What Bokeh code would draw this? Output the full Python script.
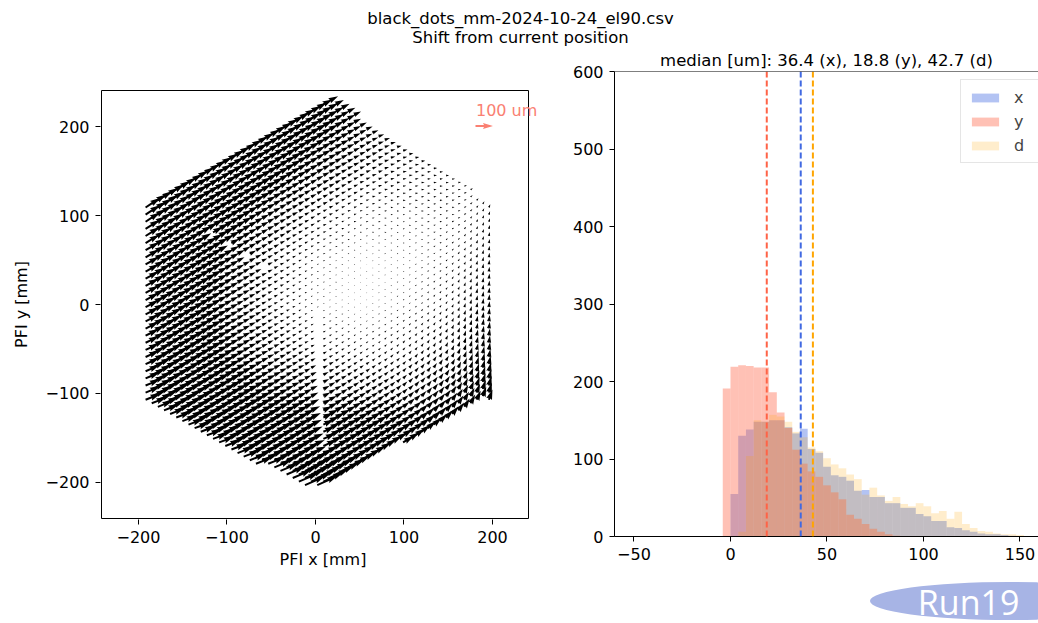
import numpy as np
from bokeh.plotting import figure
from bokeh.models import Range1d, FixedTicker, Span, Label, Legend, LegendItem
from bokeh.layouts import row, column
from bokeh.embed import file_html
from bokeh.resources import INLINE
from bokeh.core.properties import value

FONT = "DejaVu Sans"
FS = "16px"

# ---------------- text ----------------
suptitle_lines = ["black_dots_mm-2024-10-24_el90.csv", "Shift from current position"]
hist_title = "median [um]: 36.4 (x), 18.8 (y), 42.7 (d)"
x_label = "PFI x [mm]"
y_label = "PFI y [mm]"
key_text = "100 um"
key_length_um = 100
watermark = "Run19"

# ---------------- histogram data (bins of 4 um starting at -4) ----------------
bin_start = -4
bin_width = 4
counts_x = [0, 55, 130, 138, 148, 148, 150, 150, 141, 133, 139, 113, 108, 90, 79, 77, 72, 59, 60,
            51, 51, 43, 43, 37, 37, 29, 26, 20, 20, 12, 11, 8, 6, 4, 3, 3, 2, 1]
counts_y = [191, 219, 221, 220, 218, 218, 186, 160, 140, 112, 94, 84, 77, 66, 57, 48, 28, 23, 16,
            10, 6, 3, 1]
counts_d = [0, 0, 6, 104, 150, 148, 157, 155, 148, 135, 128, 115, 110, 101, 93, 88, 80, 74, 54,
            63, 53, 46, 51, 42, 39, 43, 39, 30, 33, 23, 32, 16, 11, 7, 6, 4, 3, 3, 2]
median_x = 36.4
median_y = 18.8
median_d = 42.7

# ---------------- quiver data ----------------
hex_vertex_x = [14, 196, 199, -12, -194, -194]
hex_vertex_y = [232, 116, -106, -210, -108, 108]
lattice_pitch = 8.0
lattice_center = (2.0, 5.0)
# sector gaps: direction (deg), start and end distance (mm), every n-th point missing
gap_angles = [270, 150]
gap_start = [8, 60]
gap_end = [172, 160]
gap_every = [1, 3]

grid_x = [-200, -150, -100, -50, 0, 50, 100, 150, 200]
grid_y = [200, 150, 100, 50, 0, -50, -100, -150, -200]
shift_um = [
    [110, 105, 95, 80, 62, 42, 30, 25, 25],
    [105, 95, 80, 62, 45, 30, 22, 18, 18],
    [100, 85, 62, 42, 25, 14, 12, 14, 22],
    [90, 75, 50, 28, 12, 6, 8, 14, 28],
    [85, 70, 46, 24, 9, 5, 10, 18, 35],
    [85, 72, 52, 34, 22, 16, 20, 28, 45],
    [90, 80, 66, 52, 44, 38, 36, 45, 60],
    [100, 92, 86, 80, 76, 72, 66, 70, 80],
    [120, 112, 110, 115, 125, 120, 110, 100, 100],
]
shift_deg = [
    [32, 32, 31, 30, 29, 25, 15, 5, 20],
    [33, 32, 31, 30, 28, 22, 10, 0, 40],
    [34, 32, 30, 28, 25, 15, 0, 10, 75],
    [30, 30, 28, 25, 20, 0, 10, 45, 85],
    [28, 28, 26, 24, 20, 10, 30, 60, 85],
    [25, 25, 24, 24, 26, 35, 50, 65, 82],
    [22, 22, 23, 24, 27, 33, 42, 55, 75],
    [20, 20, 21, 22, 24, 27, 32, 42, 58],
    [20, 20, 21, 22, 24, 26, 30, 36, 48],
]

# ---------------- lattice ----------------
def inside(px, py, vx, vy):
    res = np.zeros(len(px), bool)
    n = len(vx)
    j = n - 1
    for i in range(n):
        with np.errstate(divide="ignore", invalid="ignore"):
            xint = (vx[j] - vx[i]) * (py - vy[i]) / (vy[j] - vy[i]) + vx[i]
        cond = ((vy[i] > py) != (vy[j] > py)) & (px < xint)
        res ^= cond
        j = i
    return res

dxc = lattice_pitch * np.sqrt(3) / 2
ii, jj = np.meshgrid(np.arange(-35, 36), np.arange(-35, 36))
ii = ii.ravel(); jj = jj.ravel()
px = lattice_center[0] + dxc * ii
py = lattice_center[1] + lattice_pitch * jj + np.where(ii % 2 == 1, lattice_pitch / 2, 0.0)
keep = inside(px, py, np.array(hex_vertex_x, float), np.array(hex_vertex_y, float))
for a, t0, t1, ev in zip(gap_angles, gap_start, gap_end, gap_every):
    ux, uy = np.cos(np.radians(a)), np.sin(np.radians(a))
    rx, ry = px - lattice_center[0], py - lattice_center[1]
    t = rx * ux + ry * uy
    perp = np.abs(rx * uy - ry * ux)
    on = (t > t0) & (t < t1) & (perp < 2) & (np.round(t / lattice_pitch).astype(int) % ev == 0)
    keep &= ~on
px = px[keep]; py = py[keep]

gx = np.array(grid_x, float)
gy = np.array(grid_y, float)[::-1]
M = np.array(shift_um, float)[::-1]
A = np.radians(np.array(shift_deg, float)[::-1])
U = M * np.cos(A); V = M * np.sin(A)

def sample(T, x, y):
    fx = np.clip((x - gx[0]) / (gx[1] - gx[0]), 0, len(gx) - 1 - 1e-9)
    fy = np.clip((y - gy[0]) / (gy[1] - gy[0]), 0, len(gy) - 1 - 1e-9)
    ix = np.floor(fx).astype(int); iy = np.floor(fy).astype(int)
    tx = fx - ix; ty = fy - iy
    return (T[iy, ix] * (1 - tx) * (1 - ty) + T[iy, ix + 1] * tx * (1 - ty)
            + T[iy + 1, ix] * (1 - tx) * ty + T[iy + 1, ix + 1] * tx * ty)

u_um = sample(U, px, py)
v_um = sample(V, px, py)

# ---------------- left figure ----------------
SPX = (-241.8, 240.7)      # axes box (spines), data units
SPY = (-240.5, 240.5)
SX = 427 / (SPX[1] - SPX[0])
SY = 428 / (SPY[1] - SPY[0])
XR = (SPX[0] - 1 / SX, SPX[0] - 1 / SX + 445 / SX)
YR = (SPY[0] - 1 / SY, SPY[1] + 1 / SY)
PX_PER_UM = 0.175
W = 2.0

def arrow_poly(x0, y0, u, v):
    upx, vpx = u * PX_PER_UM, v * PX_PER_UM
    L = np.hypot(upx, vpx) / W
    th = np.arctan2(vpx, upx)
    if L >= 5:
        xs = np.array([0, L - 4.5, L - 5, L, L - 5, L - 4.5, 0])
        ys = np.array([-0.5, -0.5, -1.5, 0, 1.5, 0.5, 0.5])
    else:
        s = L / 5.0
        xs = np.array([0, 0.5, 0, 5, 0, 0.5, 0]) * s
        ys = np.array([-0.5, -0.5, -1.5, 0, 1.5, 0.5, 0.5]) * s
    xs = xs * W; ys = ys * W
    c, sn = np.cos(th), np.sin(th)
    rx = xs * c - ys * sn
    ry = xs * sn + ys * c
    return list(x0 + rx / SX), list(y0 + ry / SY)

axs, ays = [], []
for k in range(len(px)):
    a, b = arrow_poly(px[k], py[k], u_um[k], v_um[k])
    axs.append(a); ays.append(b)

p1 = figure(width=560, height=576, x_range=Range1d(*XR), y_range=Range1d(*YR),
            output_backend="svg", toolbar_location=None,
            min_border_left=100, min_border_right=15, min_border_top=42, min_border_bottom=104)
p1.patches(xs=axs, ys=ays, fill_color="black", line_color=None)
p1.line(x=[SPX[0], SPX[1], SPX[1], SPX[0], SPX[0]], y=[SPY[0], SPY[0], SPY[1], SPY[1], SPY[0]],
        line_color="black", line_width=1)
kx, ky = arrow_poly(180.8, 200.5, key_length_um, 0.0)
p1.patch(kx, ky, fill_color="#fa8072", line_color=None)
p1.add_layout(Label(x=216, y=217.5, text=key_text, text_align="center", text_baseline="middle",
                    text_font=FONT, text_font_size=FS, text_color="#fa8072"))

def style_axes(p):
    p.grid.visible = False
    for ax in [p.xaxis[0], p.yaxis[0]]:
        ax.major_label_text_font = FONT
        ax.major_label_text_font_size = FS
        ax.major_label_text_color = "black"
        ax.axis_label_text_font = FONT
        ax.axis_label_text_font_size = FS
        ax.axis_label_text_font_style = "normal"
        ax.axis_label_text_color = "black"
        ax.major_tick_in = 0
        ax.major_tick_out = 5
        ax.minor_tick_in = 0
        ax.minor_tick_out = 0
        ax.axis_line_color = "black"
        ax.major_tick_line_color = "black"
        ax.major_label_standoff = 6

style_axes(p1)
p1.outline_line_color = None
p1.xaxis.axis_line_color = None
p1.yaxis.axis_line_color = None
p1.xaxis.ticker = FixedTicker(ticks=[-200, -100, 0, 100, 200])
p1.yaxis.ticker = FixedTicker(ticks=[-200, -100, 0, 100, 200])
p1.xaxis.major_label_overrides = {-200: "\u2212200", -100: "\u2212100"}
p1.yaxis.major_label_overrides = {-200: "\u2212200", -100: "\u2212100"}
p1.xaxis.axis_label = x_label
p1.yaxis.axis_label = y_label
p1.xaxis.axis_label_standoff = 4
p1.yaxis.axis_label_standoff = 12

# ---------------- right figure (histogram) ----------------
p2 = figure(width=478, height=521, x_range=Range1d(-60.1, 159.6), y_range=Range1d(0, 600),
            output_backend="svg", toolbar_location=None,
            min_border_left=54, min_border_right=0, min_border_top=24, min_border_bottom=32)
style_axes(p2)
p2.outline_line_color = None
p2.title.text = hist_title
p2.title.align = "center"
p2.title.text_font = FONT
p2.title.text_font_size = "16.5px"
p2.title.text_font_style = "normal"
p2.title.text_color = "black"
p2.title.standoff = 3

def hist(counts, color, alpha):
    lefts = [bin_start + bin_width * i for i in range(len(counts))]
    rights = [l + bin_width for l in lefts]
    return p2.quad(left=lefts, right=rights, bottom=0, top=counts,
                   fill_color=color, fill_alpha=alpha, line_color=None)

rx_ = hist(counts_x, "#4169e1", 0.4)
ry_ = hist(counts_y, "#ff6347", 0.4)
rd_ = hist(counts_d, "#ffa500", 0.2)

for m, col in [(median_y, "#ff6347"), (median_x, "#4169e1"), (median_d, "#ffa500")]:
    p2.add_layout(Span(location=m, dimension="height", line_color=col, line_width=2,
                       line_dash="6 3"))
p2.add_layout(Span(location=600, dimension="width", line_color="black", line_width=1))

p2.xaxis.ticker = FixedTicker(ticks=[-50, 0, 50, 100, 150])
p2.yaxis.ticker = FixedTicker(ticks=[0, 100, 200, 300, 400, 500, 600])
p2.xaxis.major_label_overrides = {-50: "\u221250"}

legend = Legend(items=[LegendItem(label="x", renderers=[rx_]),
                       LegendItem(label="y", renderers=[ry_]),
                       LegendItem(label="d", renderers=[rd_])],
                location=(346, 373))
legend.label_text_font = FONT
legend.label_text_font_size = FS
legend.glyph_width = 34
legend.glyph_height = 11
legend.label_standoff = 12
legend.label_height = 20
legend.padding = 7
legend.spacing = 4
legend.margin = 0
legend.border_line_color = "#cccccc"
legend.background_fill_alpha = 0.8
p2.add_layout(legend)

# ---------------- watermark strip ----------------
p3 = figure(width=478, height=55, x_range=Range1d(560, 1038), y_range=Range1d(0, 55),
            output_backend="svg", toolbar_location=None, min_border=0)
p3.axis.visible = False
p3.grid.visible = False
p3.outline_line_color = None
p3.ellipse(x=[1005], y=[22.5], width=[314], height=[38], fill_color="#a7b4e5", line_color=None)
p3.text(x=[902], y=[22], text=[watermark], text_font=value("Open Sans"), text_font_size="34px",
        text_color="white", text_align="left", text_baseline="middle")

# ---------------- suptitle strip ----------------
p0 = figure(width=1038, height=47, x_range=Range1d(0, 1038), y_range=Range1d(0, 47),
            output_backend="svg", toolbar_location=None, min_border=0)
p0.axis.visible = False
p0.grid.visible = False
p0.outline_line_color = None
p0.text(x=[520, 520], y=[29, 10], text=suptitle_lines, text_font=value(FONT),
        text_font_size="16.5px", text_color="black", text_align="center", text_baseline="middle")

layout = column(p0, row(p1, column(p2, p3)))
open("out.html", "w").write(file_html(layout, INLINE))
